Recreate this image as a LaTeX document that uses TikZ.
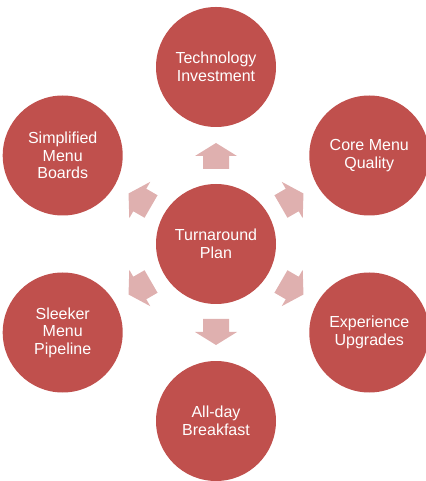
\documentclass[tikz,border=0pt]{standalone}
\usepackage{fontspec}
\setmainfont{Liberation Sans}
\usetikzlibrary{positioning}
\definecolor{cred}{HTML}{C0504D}
\definecolor{cpink}{HTML}{DFB0AF}
\tikzset{
  every picture/.style={x=1pt, y=1pt},
  disc/.style={circle, fill=cred, text=white, align=center, inner sep=0pt, minimum size=120pt,
    font=\fontsize{16}{17.5}\selectfont},
  blockarrow/.pic={
    \fill[cpink] (75,-13) -- (88,-13) -- (88,-21) -- (101,0) -- (88,21) -- (88,13) -- (75,13) -- cycle;
  },
}

\begin{document}
\begin{tikzpicture}
  \useasboundingbox (-216,-237) rectangle (209,244);
  \node[disc] (plan) at (0,0) {Turnaround\\Plan};
  % outer ring, one step every 60 degrees
  \node[disc] (tech) at (90:177) {Technology\\Investment};
  \node[disc] (core) at (30:177) {Core Menu\\Quality};
  \node[disc] (exp) at (-30:177) {Experience\\Upgrades};
  \node[disc] (brk) at (-90:177) {All-day\\Breakfast};
  \node[disc] (pipe) at (210:177) {Sleeker\\Menu\\Pipeline};
  \node[disc] (boards) at (150:177) {Simplified\\Menu\\Boards};
  \foreach \a in {90,30,-30,-90,210,150}
    \pic[rotate=\a] at (plan.center) {blockarrow};
\end{tikzpicture}
\end{document}
